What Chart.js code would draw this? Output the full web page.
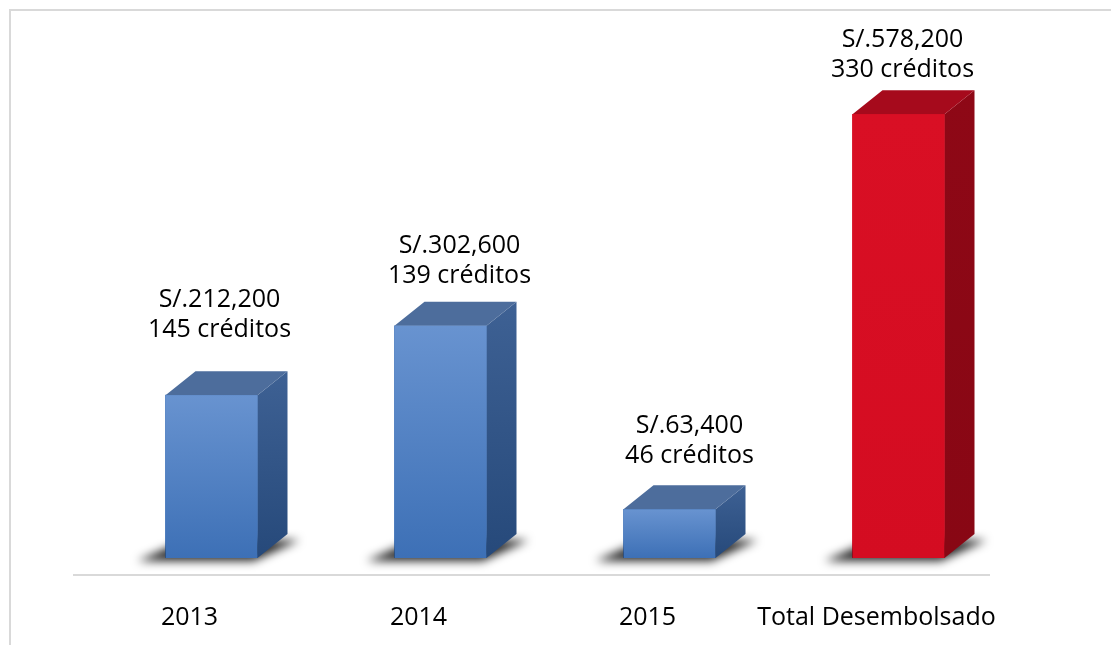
<!DOCTYPE html>
<html>
<head>
<meta charset="utf-8">
<script src="https://cdn.jsdelivr.net/npm/chart.js@4/dist/chart.umd.min.js"></script>
<style>
  html, body { margin: 0; padding: 0; background: #fff; }
  #wrap { width: 1111px; height: 645px; }
</style>
</head>
<body>
<div id="wrap"><canvas id="chart" width="1111" height="645"></canvas></div>
<script>
// data
const categories = ['2013', '2014', '2015', 'Total Desembolsado'];
const amounts = [212200, 302600, 63400, 578200];
const credits = [145, 139, 46, 330];

// look
const frontTop = ['#6893d0', '#6893d0', '#6893d0', '#d90f24'];
const frontBottom = ['#3d70b6', '#3d70b6', '#3d70b6', '#d40c21'];
const sideTop = ['#3e6194', '#3e6194', '#3e6194', '#8e0816'];
const sideBottom = ['#26497a', '#26497a', '#26497a', '#880714'];
const topColor = ['#4d6d9c', '#4d6d9c', '#4d6d9c', '#a60a1c'];
const labelShiftX = [8, 19, 20, 4];
const labelGap = [58, 43, 46, 37];
const DX = 30, DY = -24;
const FONT = '25px "Open Sans"';

function money(v) {
  return 'S/.' + v.toLocaleString('en-US');
}

const frame = {
  id: 'frame',
  beforeDraw(chart) {
    const c = chart.ctx;
    c.save();
    c.strokeStyle = '#d9d9d9';
    c.lineWidth = 2;
    c.beginPath();
    c.moveTo(10, 645);
    c.lineTo(10, 10);
    c.lineTo(1111, 10);
    c.stroke();
    // floor line
    const a = chart.chartArea;
    c.beginPath();
    c.moveTo(a.left - 24, a.bottom + 17);
    c.lineTo(a.right - 23, a.bottom + 17);
    c.stroke();
    c.restore();
  }
};

const boxes = {
  id: 'boxes',
  afterDatasetsDraw(chart) {
    const c = chart.ctx;
    const meta = chart.getDatasetMeta(0);
    meta.data.forEach((bar, i) => {
      const p = bar.getProps(['x', 'y', 'base', 'width'], true);
      const x0 = p.x - p.width / 2, x1 = p.x + p.width / 2;
      const y = p.y, b = p.base;

      // soft shadow on the floor, falling mostly to the left
      c.save();
      c.filter = 'blur(5px)';
      c.fillStyle = 'rgba(0,0,0,0.85)';
      c.beginPath();
      c.moveTo(x0 - 28, b + 3);
      c.lineTo(x1 - 4, b + 3);
      c.lineTo(x1 + DX + 12, b + DY + 6);
      c.lineTo(x0 + DX - 10, b + DY + 6);
      c.closePath();
      c.fill();
      c.restore();

      // side
      let g = c.createLinearGradient(0, y + DY, 0, b);
      g.addColorStop(0, sideTop[i]);
      g.addColorStop(1, sideBottom[i]);
      c.fillStyle = g;
      c.beginPath();
      c.moveTo(x1, y);
      c.lineTo(x1 + DX, y + DY);
      c.lineTo(x1 + DX, b + DY);
      c.lineTo(x1, b);
      c.closePath();
      c.fill();

      // top
      c.fillStyle = topColor[i];
      c.beginPath();
      c.moveTo(x0, y);
      c.lineTo(x0 + DX, y + DY);
      c.lineTo(x1 + DX, y + DY);
      c.lineTo(x1, y);
      c.closePath();
      c.fill();

      // front
      g = c.createLinearGradient(0, y, 0, b);
      g.addColorStop(0, frontTop[i]);
      g.addColorStop(1, frontBottom[i]);
      c.fillStyle = g;
      c.fillRect(x0, y, x1 - x0, b - y);

      // value labels
      c.save();
      c.font = FONT;
      c.fillStyle = '#000';
      c.textAlign = 'center';
      c.textBaseline = 'alphabetic';
      const lx = p.x + labelShiftX[i];
      const ly = y - labelGap[i];
      c.fillText(money(amounts[i]), lx, ly - 30);
      c.fillText(credits[i] + ' créditos', lx, ly);
      c.restore();
    });
  }
};

new Chart(document.getElementById('chart'), {
  type: 'bar',
  data: {
    labels: categories,
    datasets: [{
      data: amounts,
      backgroundColor: frontBottom,
      barThickness: 92
    }]
  },
  options: {
    responsive: false,
    devicePixelRatio: 1,
    animation: false,
    layout: { padding: { left: 97, right: 98, top: 97.5, bottom: 0 } },
    plugins: { legend: { display: false }, tooltip: { enabled: false } },
    scales: {
      x: {
        grid: { display: false },
        border: { display: false },
        ticks: {
          color: '#000',
          font: { family: 'Open Sans', size: 25 },
          padding: 37,
          labelOffset: -22,
          maxRotation: 0,
          minRotation: 0,
          autoSkip: false
        },
        afterFit(scale) { scale.height = 87; }
      },
      y: { display: false, min: 0, max: 600000 }
    }
  },
  plugins: [frame, boxes]
});
</script>
</body>
</html>
